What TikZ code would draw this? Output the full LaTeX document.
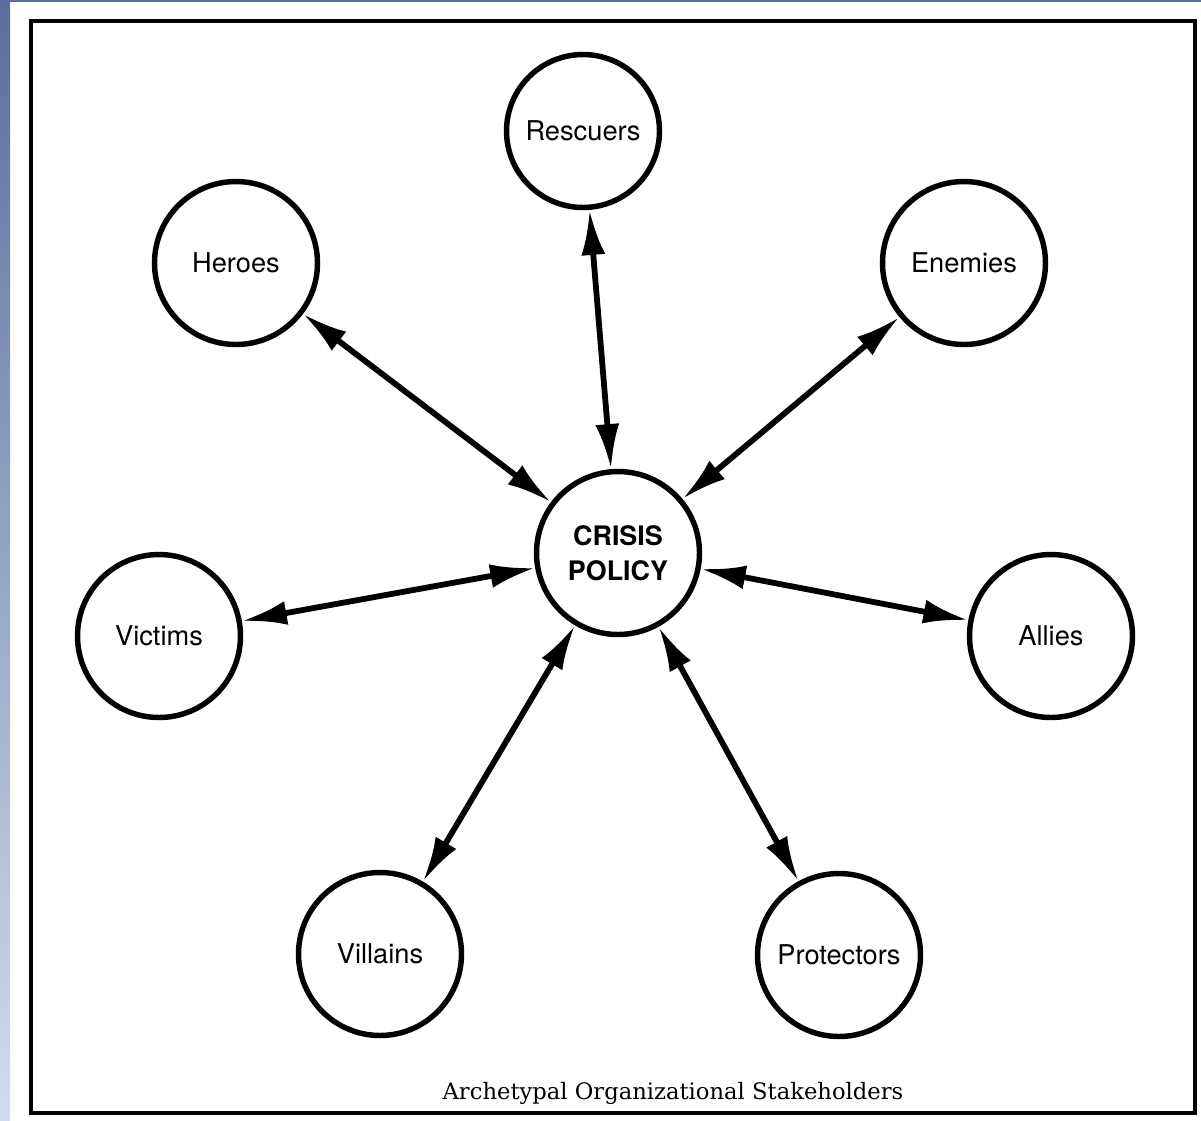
\documentclass[tikz,border=0pt]{standalone}
\usepackage{fontspec}
\setsansfont{TeX Gyre Heros}
\newfontfamily\captionfont{DejaVu Serif}
\usetikzlibrary{arrows.meta}
\definecolor{bardark}{HTML}{5A6E9B}
\definecolor{barlight}{HTML}{D2DCEC}
\newcommand{\StakePx}{0.02}

\tikzset{
  stake/.style={circle, draw, line width=3.1pt, minimum size=3.26cm, inner sep=0pt,
                font=\sffamily\fontsize{15.5}{18}\selectfont},
  link/.style={{Latex[length=0.9cm,width=0.48cm]}-{Latex[length=0.9cm,width=0.48cm]},
               line width=3.3pt}
}

\begin{document}
\begin{tikzpicture}[x=\StakePx cm, y=-\StakePx cm, >=Latex]
    \useasboundingbox (0,0) rectangle (1201,1120);
    %draw page background
    \shade[top color=bardark, bottom color=barlight] (0,0) rectangle (10,1120);
    \fill[bardark] (0,0) rectangle (1201,2);
    \draw[line width=2.2pt] (31,21) rectangle (1195,1113);

    % draw stakeholders
    \node[stake, align=center, font=\sffamily\bfseries\fontsize{15.3}{20}\selectfont] (policy) at (618,553) {CRISIS\\POLICY};
    \node[stake, minimum size=3.06cm] (rescuers) at (583,131) {Rescuers};
    \node[stake] (heroes) at (236,263) {Heroes};
    \node[stake] (enemies) at (964,263) {Enemies};
    \node[stake] (victims) at (159,636) {Victims};
    \node[stake] (allies) at (1051,636) {Allies};
    \node[stake] (villains) at (380,954) {Villains};
    \node[stake] (protectors) at (839,955) {Protectors};

    % draw links
    \foreach \who in {rescuers,heroes,enemies,victims,allies,villains,protectors}
        \draw[link] (policy) -- (\who);

    \node (caption) at (673,1093) {\captionfont\fontsize{12.9}{15}\selectfont Archetypal Organizational Stakeholders};
  \end{tikzpicture}
\end{document}
